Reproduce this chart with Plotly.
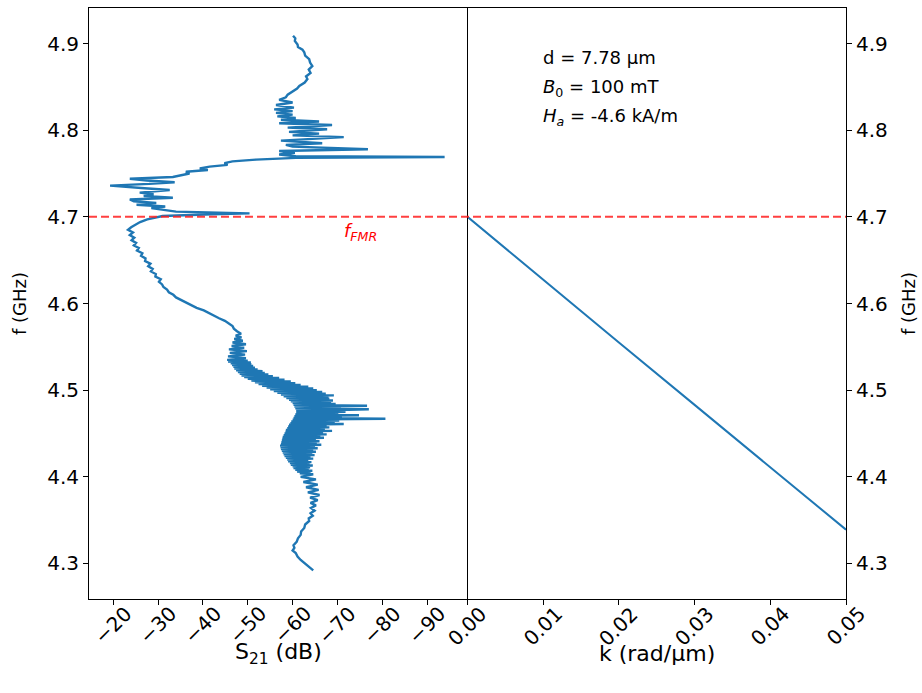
import plotly.graph_objects as go

# ---- data: measured S21 trace (frequency in GHz, S21 in dB) ----
freq_ghz = [
    4.292, 4.296, 4.300, 4.304, 4.308, 4.312, 4.315, 4.318, 4.321, 4.325,
    4.329, 4.333, 4.337, 4.341, 4.345, 4.349, 4.352, 4.355, 4.358, 4.361,
    4.364, 4.367, 4.370, 4.373, 4.376, 4.379, 4.382, 4.385, 4.388, 4.391,
    4.394, 4.397, 4.400,
    4.403, 4.404, 4.405, 4.406, 4.407, 4.408, 4.409, 4.410, 4.411, 4.412,
    4.413, 4.414, 4.415, 4.416, 4.417, 4.418, 4.419, 4.420, 4.421, 4.422,
    4.423, 4.424, 4.425, 4.426, 4.427, 4.428, 4.429, 4.430, 4.431, 4.432,
    4.433, 4.434, 4.435, 4.436, 4.437, 4.438, 4.439, 4.440, 4.441, 4.442,
    4.443, 4.444, 4.445, 4.446, 4.447, 4.448, 4.449, 4.450, 4.451, 4.452,
    4.453, 4.454, 4.455, 4.456, 4.457, 4.458, 4.459, 4.460, 4.461, 4.462,
    4.463, 4.464, 4.465, 4.466, 4.467, 4.468, 4.469, 4.470, 4.471, 4.472,
    4.473, 4.474, 4.475, 4.476, 4.477, 4.478, 4.479, 4.480, 4.481, 4.482,
    4.483, 4.484, 4.485, 4.486, 4.487, 4.488, 4.489, 4.490, 4.491, 4.492,
    4.493, 4.494, 4.495, 4.496, 4.497, 4.498, 4.499, 4.500, 4.501, 4.502,
    4.503, 4.504, 4.505, 4.506, 4.507, 4.508, 4.509, 4.510, 4.511, 4.512,
    4.513, 4.514, 4.515, 4.516, 4.517, 4.518, 4.519, 4.520, 4.521, 4.522,
    4.523, 4.524, 4.525, 4.526, 4.527, 4.528, 4.529, 4.530, 4.531, 4.532,
    4.533, 4.534, 4.535,
    4.537, 4.539, 4.541, 4.543, 4.545, 4.547, 4.549, 4.551,
    4.553, 4.555, 4.557, 4.559, 4.561, 4.563, 4.565, 4.568, 4.571, 4.574,
    4.577, 4.580, 4.583, 4.586, 4.589, 4.592, 4.595, 4.598, 4.601, 4.604,
    4.607, 4.610, 4.613, 4.616, 4.619, 4.622, 4.625, 4.628, 4.631, 4.634,
    4.637, 4.640, 4.643, 4.646, 4.649, 4.652, 4.655, 4.658, 4.661, 4.664,
    4.667, 4.670, 4.673, 4.676, 4.679, 4.682, 4.685, 4.688, 4.691, 4.694,
    4.697, 4.699, 4.701, 4.703, 4.704, 4.706, 4.708, 4.710, 4.712, 4.714,
    4.716, 4.718, 4.720, 4.722, 4.724, 4.726, 4.728, 4.730, 4.731, 4.733,
    4.736, 4.738, 4.740, 4.742, 4.744, 4.746, 4.748, 4.750, 4.752, 4.754,
    4.756, 4.758, 4.760, 4.762, 4.764, 4.766, 4.768, 4.769, 4.770, 4.772,
    4.774, 4.776, 4.778, 4.781, 4.783, 4.785, 4.788, 4.792, 4.794, 4.796,
    4.798, 4.801, 4.803, 4.806, 4.808, 4.810, 4.812, 4.814, 4.816, 4.818,
    4.820, 4.822, 4.824, 4.826, 4.829, 4.832, 4.835, 4.838, 4.841, 4.845,
    4.848, 4.851, 4.855, 4.859, 4.862, 4.866, 4.870, 4.874, 4.878, 4.882,
    4.886, 4.890, 4.893, 4.896, 4.899, 4.903, 4.906, 4.909,
]
s21_db = [
    -64.6, -63.6, -62.6, -61.8, -61.1, -60.7, -60.0, -60.4, -60.2, -60.9,
    -61.2, -61.8, -61.9, -62.6, -62.8, -63.7, -63.6, -64.5, -64.0, -64.9,
    -64.1, -65.2, -64.0, -65.6, -63.9, -66.0, -63.4, -65.8, -63.0, -65.6,
    -62.4, -65.2, -61.8,
    -64.6, -61.6, -64.0, -61.0, -64.4, -60.6, -63.6, -60.2, -63.9, -60.0,
    -64.5, -59.6, -63.8, -59.4, -64.2, -59.0, -63.5, -58.8, -64.6, -58.5,
    -64.0, -58.2, -64.9, -58.0, -64.4, -57.8, -65.2, -57.6, -64.6, -57.4,
    -65.6, -57.3, -65.0, -57.2, -66.4, -57.4, -65.4, -57.5, -66.0, -57.6,
    -65.2, -57.7, -67.0, -57.8, -66.2, -58.0, -67.6, -58.2, -66.8, -58.4,
    -68.8, -58.5, -67.2, -58.8, -68.2, -59.0, -67.6, -59.2, -71.4, -59.5,
    -69.4, -59.7, -70.4, -60.0, -80.7, -60.2, -71.0, -60.4, -74.8, -60.6,
    -70.2, -60.8, -71.8, -60.8, -70.0, -77.0, -60.6, -70.8, -60.4, -76.6,
    -60.2, -69.6, -60.0, -68.6, -59.6, -69.0, -59.2, -68.2, -58.6, -68.0,
    -58.0, -69.2, -57.4, -67.4, -56.6, -66.6, -55.8, -65.4, -55.0, -64.6,
    -54.2, -63.5, -53.2, -61.8, -52.4, -60.6, -51.6, -59.6, -50.8, -58.2,
    -50.0, -57.0, -49.2, -55.6, -48.6, -54.6, -48.2, -53.8, -47.8, -53.3,
    -47.4, -52.2, -47.0, -51.6, -46.8, -51.2, -46.5, -50.8, -46.2, -50.7,
    -45.6, -50.0, -45.4,
    -49.6, -45.6, -49.4, -46.0, -49.8, -45.8, -49.2, -46.4,
    -49.6, -46.6, -48.9, -47.0, -48.6, -47.3, -48.5, -47.6, -46.9, -46.6,
    -45.8, -44.9, -43.6, -42.4, -41.2, -40.2, -38.6, -37.4, -36.2, -35.2,
    -34.0, -33.4, -32.4, -32.0, -31.2, -30.9, -30.2, -30.6, -29.4, -29.5,
    -28.4, -28.8, -27.8, -28.3, -27.1, -27.2, -26.2, -26.5, -25.3, -25.7,
    -24.6, -25.1, -24.1, -24.7, -23.7, -24.4, -23.3, -24.0, -25.0, -26.0,
    -27.6, -29.4, -31.0, -42.0, -50.4, -34.0, -31.2, -28.5, -31.6, -25.2,
    -29.6, -24.6, -23.7, -33.3, -26.8, -29.0, -25.9, -31.0, -32.6, -27.0,
    -19.3, -28.0, -33.7, -27.5, -23.7, -33.3, -35.5, -37.0, -36.2, -41.1,
    -39.3, -41.5, -45.5, -44.8, -46.6, -51.8, -60.7, -93.9, -60.7, -57.0,
    -60.5, -57.0, -76.8, -60.0, -58.5, -66.6, -57.4, -71.4, -60.0, -65.9,
    -59.2, -67.7, -58.9, -68.8, -57.0, -65.9, -57.4, -60.7, -56.6, -60.0,
    -56.3, -60.0, -55.9, -60.3, -56.3, -60.0, -57.0, -58.5, -58.9, -60.0,
    -61.0, -61.5, -62.7, -63.3, -63.0, -64.0, -63.6, -64.4, -63.9, -63.7,
    -62.8, -62.6, -62.2, -61.2, -61.1, -60.5, -60.6, -60.1,
]

# ---- data: calculated dispersion ----
k_rad_um = [0.0, 0.01, 0.02, 0.03, 0.04, 0.05]
f_disp_ghz = [4.700, 4.627, 4.555, 4.483, 4.411, 4.339]

f_fmr = 4.7
s21_ticks = [-20, -30, -40, -50, -60, -70, -80, -90]
k_ticks = [0.0, 0.01, 0.02, 0.03, 0.04, 0.05]
f_ticks = [4.3, 4.4, 4.5, 4.6, 4.7, 4.8, 4.9]

FONT = "DejaVu Sans"
BLUE = "#1f77b4"
RED = "rgba(255,30,30,0.85)"
TICK_SIZE = 20

fig = go.Figure()
fig.add_trace(go.Scatter(x=s21_db, y=freq_ghz, mode="lines",
                         line=dict(color=BLUE, width=2.4),
                         xaxis="x", yaxis="y", showlegend=False))
fig.add_trace(go.Scatter(x=k_rad_um, y=f_disp_ghz, mode="lines",
                         line=dict(color=BLUE, width=2),
                         xaxis="x2", yaxis="y2", showlegend=False))

# FMR dashed line across both panels
fig.add_shape(type="line", xref="paper", yref="y", x0=0, x1=1,
              y0=f_fmr, y1=f_fmr, line=dict(color=RED, width=2, dash="8px,4px"))

yrange = [4.259, 4.941]
axis_common = dict(showline=True, linecolor="black", linewidth=1,
                   ticks="outside", ticklen=5, tickwidth=1, tickcolor="black",
                   showgrid=False, zeroline=False,
                   tickfont=dict(family=FONT, size=TICK_SIZE, color="black"))

fig.update_layout(
    width=922, height=693,
    margin=dict(l=89, r=73, t=7, b=94),
    paper_bgcolor="white", plot_bgcolor="white",
    font=dict(family=FONT, size=18, color="black"),
    xaxis=dict(domain=[0, 0.5], anchor="y", range=[-14.6, -99.0], mirror=True,
               tickvals=s21_ticks, showticklabels=False, **axis_common),
    xaxis2=dict(domain=[0.5, 1], anchor="y2", range=[0, 0.05], mirror=True,
                tickvals=k_ticks, showticklabels=False, **axis_common),
    yaxis=dict(domain=[0, 1], anchor="x", range=yrange, tickvals=f_ticks,
               tickformat=".1f", mirror=False,
               title=dict(text="f (GHz)", font=dict(family=FONT, size=18)),
               **axis_common),
    yaxis2=dict(domain=[0, 1], anchor="x2", range=yrange, tickvals=f_ticks,
                tickformat=".1f", side="right", matches="y", mirror=True,
                title=dict(text="f (GHz)", font=dict(family=FONT, size=18)),
                **axis_common),
)

# rotated x tick labels, centred under each tick (matplotlib style)
for t in s21_ticks:
    fig.add_annotation(x=t, xref="x", y=0, yref="paper", yshift=0,
                       text=f"\u2212{abs(t)}", textangle=-45, showarrow=False,
                       xanchor="center", yanchor="top",
                       font=dict(family=FONT, size=TICK_SIZE, color="black"))
for t in k_ticks:
    fig.add_annotation(x=t, xref="x2", y=0, yref="paper", yshift=0,
                       text=f"{t:.2f}", textangle=-45, showarrow=False,
                       xanchor="center", yanchor="top",
                       font=dict(family=FONT, size=TICK_SIZE, color="black"))

# x axis titles
fig.add_annotation(x=0.5, xref="x domain", y=0, yref="paper", yshift=-54,
                   text="S<sub>21</sub> (dB)", showarrow=False,
                   xanchor="center", yanchor="middle",
                   font=dict(family=FONT, size=22, color="black"))
fig.add_annotation(x=0.5, xref="x2 domain", y=0, yref="paper", yshift=-54,
                   text="k (rad/µm)", showarrow=False,
                   xanchor="center", yanchor="middle",
                   font=dict(family=FONT, size=22, color="black"))

# annotations
fig.add_annotation(x=-75.2, y=4.682, xref="x", yref="y",
                   text="<i>f</i><sub><i>FMR</i></sub>", showarrow=False,
                   font=dict(family=FONT, size=18, color="red"))
info_lines = ["d = 7.78 µm", "<i>B</i><sub>0</sub> = 100 mT",
              "<i>H</i><sub><i>a</i></sub> = -4.6 kA/m"]
info_y = [0.9155, 0.865, 0.816]
for txt, yy in zip(info_lines, info_y):
    fig.add_annotation(x=0.194, y=yy, xref="x2 domain", yref="y domain",
                       text=txt, showarrow=False, xanchor="left", yanchor="middle",
                       font=dict(family=FONT, size=18, color="black"))

fig.write_html("out.html")
